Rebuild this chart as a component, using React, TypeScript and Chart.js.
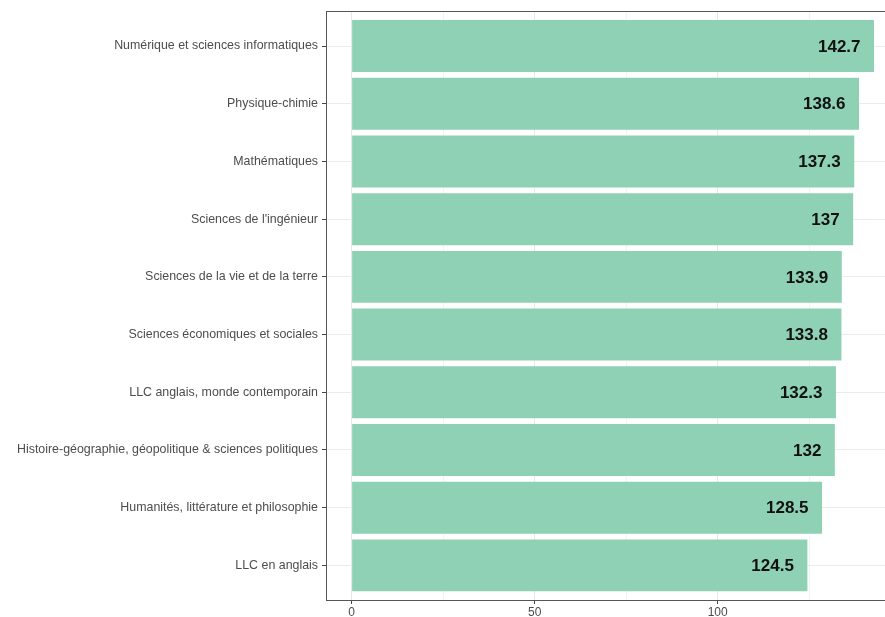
import React, { useEffect, useRef } from "react";
import { Chart, registerables } from "chart.js";

Chart.register(...registerables);

const categories: string[] = [
  "Numérique et sciences informatiques",
  "Physique-chimie",
  "Mathématiques",
  "Sciences de l'ingénieur",
  "Sciences de la vie et de la terre",
  "Sciences économiques et sociales",
  "LLC anglais, monde contemporain",
  "Histoire-géographie, géopolitique & sciences politiques",
  "Humanités, littérature et philosophie",
  "LLC en anglais",
];

const values: number[] = [142.7, 138.6, 137.3, 137, 133.9, 133.8, 132.3, 132, 128.5, 124.5];

const xTickValues: number[] = [0, 25, 50, 75, 100, 125];
const xLabeledTicks: number[] = [0, 50, 100];

const FONT = "'Liberation Sans', Arial, Helvetica, sans-serif";

export default function App() {
  const ref = useRef<HTMLCanvasElement | null>(null);

  useEffect(() => {
    if (!ref.current) return;

    const panelBorder = {
      id: "panelBorder",
      afterDraw(chart: any) {
        const { ctx, chartArea } = chart;
        ctx.save();
        ctx.strokeStyle = "#555555";
        ctx.lineWidth = 1;
        ctx.strokeRect(
          Math.round(chartArea.left) + 0.5,
          Math.round(chartArea.top) + 0.5,
          Math.round(chartArea.right - chartArea.left) + 10,
          Math.round(chartArea.bottom - chartArea.top)
        );
        ctx.restore();
      },
    };

    const valueLabels = {
      id: "valueLabels",
      afterDatasetsDraw(chart: any) {
        const { ctx } = chart;
        const meta = chart.getDatasetMeta(0);
        ctx.save();
        ctx.font = `bold 17px ${FONT}`;
        ctx.fillStyle = "#111111";
        ctx.textAlign = "right";
        ctx.textBaseline = "middle";
        meta.data.forEach((bar: any, i: number) => {
          ctx.fillText(String(values[i]), bar.x - 13.5, bar.y + 1);
        });
        ctx.restore();
      },
    };

    const chart = new Chart(ref.current, {
      type: "bar",
      data: {
        datasets: [
          {
            data: values.map((v, i) => ({ x: v, y: i })) as any,
            backgroundColor: "#8fd1b5",
            borderWidth: 0,
            barPercentage: 0.9,
            categoryPercentage: 1,
          },
        ],
      },
      options: {
        indexAxis: "y",
        animation: false,
        responsive: false,
        maintainAspectRatio: false,
        layout: { padding: { top: 11, right: 0, bottom: 0, left: 0 } },
        plugins: {
          legend: { display: false },
          tooltip: { enabled: false },
          title: { display: false },
        },
        scales: {
          x: {
            type: "linear",
            min: -7,
            max: 145.7,
            offset: false,
            afterBuildTicks: (scale: any) => {
              scale.ticks = xTickValues.map((v) => ({ value: v }));
            },
            afterFit: (scale: any) => {
              scale.height = 17;
            },
            ticks: {
              autoSkip: false,
              maxRotation: 0,
              padding: 1,
              color: "#4d4d4d",
              font: { family: FONT, size: 12 },
              callback: (v: any) => (xLabeledTicks.includes(Number(v)) ? String(v) : ""),
            },
            grid: {
              offset: false,
              drawOnChartArea: true,
              drawTicks: true,
              tickLength: 4,
              color: (ctx: any) =>
                ctx.tick && xLabeledTicks.includes(ctx.tick.value) ? "#e8e8e8" : "#f3f3f3",
              tickColor: (ctx: any) =>
                ctx.tick && xLabeledTicks.includes(ctx.tick.value) ? "#444444" : "rgba(0,0,0,0)",
              lineWidth: 1,
            },
            border: { display: false },
          },
          y: {
            type: "linear",
            reverse: true,
            min: -0.6,
            max: 9.6,
            offset: false,
            afterBuildTicks: (scale: any) => {
              scale.ticks = categories.map((_, i) => ({ value: i }));
            },
            afterFit: (scale: any) => {
              scale.width = 326;
            },
            ticks: {
              autoSkip: false,
              padding: 4,
              color: "#4d4d4d",
              font: { family: FONT, size: 12.4 },
              callback: (v: any) => categories[Math.round(Number(v))] ?? "",
            },
            grid: {
              offset: false,
              drawOnChartArea: true,
              drawTicks: true,
              tickLength: 4,
              color: "#ebebeb",
              tickColor: "#444444",
              lineWidth: 1,
            },
            border: { display: false },
          },
        },
      },
      plugins: [panelBorder, valueLabels],
    } as any);

    return () => chart.destroy();
  }, []);

  return (
    <div
      style={{
        position: "fixed",
        left: 0,
        top: 0,
        width: 885,
        height: 617,
        overflow: "hidden",
        background: "#ffffff",
      }}
    >
      <canvas ref={ref} width={885} height={617} style={{ display: "block" }} />
    </div>
  );
}
